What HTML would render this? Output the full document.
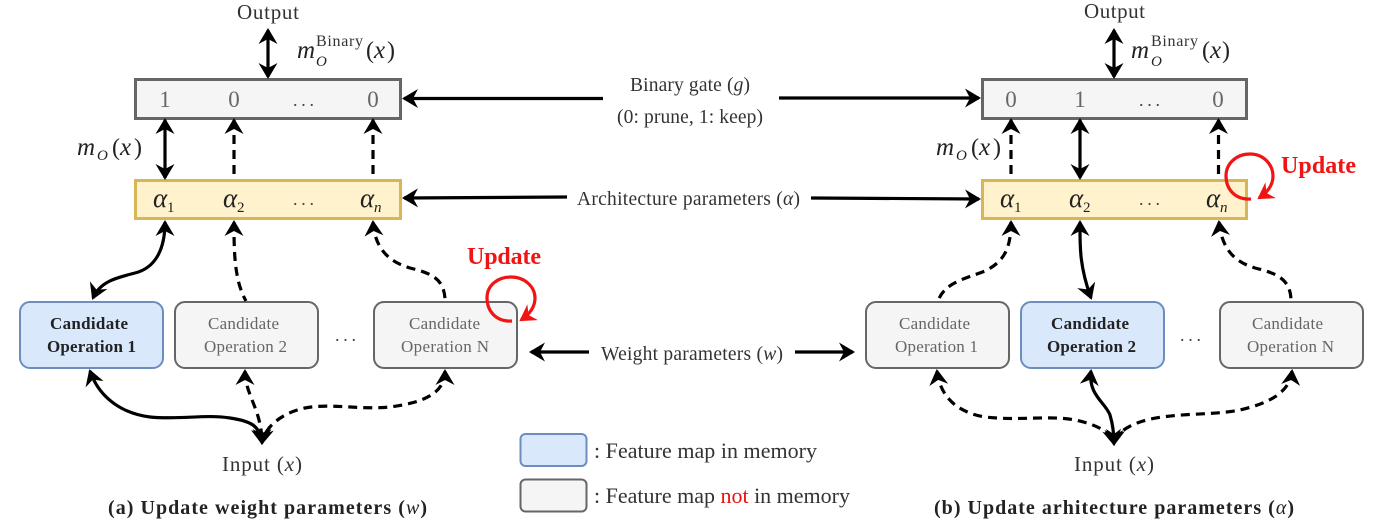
<!DOCTYPE html>
<html><head><meta charset="utf-8"><style>
html,body{margin:0;padding:0;background:#fff;width:1387px;height:527px;overflow:hidden}
svg{display:block;filter:blur(.3px)}
text{font-family:"Liberation Serif",serif;fill:#333;font-size:19.5px}
.i{font-style:italic}
.num{font-size:23px;fill:#666;text-anchor:middle}
.a{font-size:27px;font-style:italic;fill:#222}
.s{font-size:15px;fill:#222}
.bin{font-size:16px;fill:#333}
.m{font-size:25px;font-style:italic;fill:#222}
.p{font-size:24px;fill:#222}
.c{font-size:17px;fill:#666}
.cb{font-size:17px;font-weight:bold;fill:#222}
.u{font-size:24px;font-weight:bold;fill:#f01414}
.cap{font-size:20px;font-weight:bold;fill:#222}
.l{font-size:22px;fill:#333}
.d{font-size:18px;fill:#444}
.k{fill:none;stroke:#000;stroke-width:3.2;marker-end:url(#h);marker-start:url(#h)}
.o{fill:none;stroke:#000;stroke-width:3.2;marker-start:url(#h)}
.e{fill:none;stroke:#000;stroke-width:3.2;marker-end:url(#h)}
.ds{stroke-dasharray:9 6}
.r{fill:none;stroke:#f01414;stroke-width:3.2;marker-end:url(#hr)}
</style></head><body>
<svg width="1387" height="527" viewBox="0 0 1387 527" xmlns="http://www.w3.org/2000/svg">
<defs>
<marker id="h" markerUnits="userSpaceOnUse" markerWidth="20" markerHeight="20" refX="14" refY="9.500" orient="auto-start-reverse"><path d="M0,0 L16,9.500 L0,19 L5,9.500 Z" fill="#000"/></marker>
<marker id="hr" markerUnits="userSpaceOnUse" markerWidth="20" markerHeight="20" refX="14" refY="9.500" orient="auto"><path d="M0,0 L16,9.500 L0,19 L5,9.500 Z" fill="#f01414"/></marker>
</defs>

<!-- boxes left -->
<rect x="135.500" y="79.500" width="265" height="39" fill="#f5f5f5" stroke="#666" stroke-width="3"/>
<rect x="135.500" y="180.500" width="265" height="38" fill="#fff2cc" stroke="#d6b656" stroke-width="3"/>
<rect x="20" y="302" width="143" height="66" rx="10" fill="#dae8fc" stroke="#6c8ebf" stroke-width="2"/>
<rect x="175" y="302" width="143" height="66" rx="10" fill="#f5f5f5" stroke="#666" stroke-width="2"/>
<rect x="374" y="302" width="143" height="66" rx="10" fill="#f5f5f5" stroke="#666" stroke-width="2"/>
<!-- boxes right -->
<rect x="982.500" y="79.500" width="264" height="39" fill="#f5f5f5" stroke="#666" stroke-width="3"/>
<rect x="982.500" y="180.500" width="264" height="38" fill="#fff2cc" stroke="#d6b656" stroke-width="3"/>
<rect x="866" y="302" width="143" height="66" rx="10" fill="#f5f5f5" stroke="#666" stroke-width="2"/>
<rect x="1021" y="302" width="143" height="66" rx="10" fill="#dae8fc" stroke="#6c8ebf" stroke-width="2"/>
<rect x="1220" y="302" width="143" height="66" rx="10" fill="#f5f5f5" stroke="#666" stroke-width="2"/>
<!-- legend -->
<rect x="520.500" y="434" width="66" height="32" rx="5" fill="#dae8fc" stroke="#6c8ebf" stroke-width="2"/>
<rect x="520.500" y="479.500" width="66" height="32" rx="5" fill="#f5f5f5" stroke="#666" stroke-width="2"/>

<!-- left connectors -->
<path class="k" d="M268,30 L268,77"/>
<path class="k" d="M165,120 L165,178"/>
<path class="o ds" d="M234,120 L234,180"/>
<path class="o ds" d="M373,120 L373,180"/>
<path class="o" d="M404,98.500 L603,98.500"/>
<path class="o" d="M404,198 L567,197"/>
<path class="o" d="M531,352 L589,352"/>
<path class="k" d="M165,222 C165,250 155,268 135,273 C115,278 100,282 93,298"/>
<path class="o ds" d="M234,222 C234,250 234,280 246,301"/>
<path class="o ds" d="M373,222 C375,250 390,262 410,268 C430,273 445,278 445,301"/>
<path class="k" d="M90,371 C100,400 125,414 150,417 C180,420 205,414 230,418 C250,421 260,425 262,443"/>
<path class="k ds" d="M245,371 C245,395 262,410 262,443"/>
<path class="k ds" d="M445,371 C445,395 420,403 390,407 C360,410 330,403 305,408 C285,412 265,425 262,443"/>
<path class="r" d="M512,321 C495,322 487,310 487,298 C487,285 498,277 511,277 C525,277 535,287 535,298 C535,307 530,314 521,320"/>

<!-- right connectors -->
<path class="k" d="M1114,30 L1114,77"/>
<path class="o ds" d="M1011,120 L1011,180"/>
<path class="k" d="M1080,120 L1080,178"/>
<path class="o ds" d="M1218.500,120 L1218.500,180"/>
<path class="e" d="M779,98 L979,98"/>
<path class="e" d="M811,198 L979,199"/>
<path class="e" d="M795,352 L853,352"/>
<path class="o ds" d="M1011,222 C1011,250 1003,262 985,271 C965,279 945,282 938,301"/>
<path class="k" d="M1080,222 C1080,245 1079,265 1091,298"/>
<path class="o ds" d="M1219,222 C1222,250 1235,262 1255,268 C1275,273 1291,278 1291,301"/>
<path class="k ds" d="M937,371 C940,395 955,412 985,417 C1020,421 1050,415 1075,420 C1095,424 1112,432 1114,444"/>
<path class="k" d="M1091,371 C1088,395 1105,402 1110,415 C1113,425 1114,435 1114,444"/>
<path class="k ds" d="M1292,371 C1290,392 1270,403 1240,410 C1210,416 1170,412 1140,422 C1125,427 1115,435 1114,444"/>
<path class="r" d="M1251,199 C1234,200 1226,188 1226,176 C1226,163 1237,154 1250,154 C1264,154 1273,165 1273,176 C1273,185 1268,192 1259,198"/>

<!-- left text -->
<text x="237" y="19" style="font-size:21px" textLength="62">Output</text>
<text class="m" x="297" y="58">m</text><text class="bin" x="316" y="46" textLength="47">Binary</text><text class="i s" x="316" y="66">O</text><text class="p" x="366" y="58">(</text><text class="m" x="374" y="58">x</text><text class="p" x="387" y="58">)</text>
<text class="m" x="77" y="155">m</text><text class="i s" x="97" y="160">O</text><text class="p" x="112" y="155">(</text><text class="m" x="120" y="155">x</text><text class="p" x="134" y="155">)</text>
<text class="num" x="165" y="107">1</text><text class="num" x="234" y="107">0</text><text class="num" x="373" y="107">0</text>
<text class="d" x="293" y="106" textLength="21">...</text>
<text class="a" x="153" y="207">α</text><text class="s" x="167" y="212">1</text>
<text class="a" x="223" y="207">α</text><text class="s" x="237" y="212">2</text>
<text class="a" x="360" y="207">α</text><text class="s i" x="374" y="212">n</text>
<text class="d" x="293" y="205" textLength="21">...</text>
<text class="cb" x="50" y="329" textLength="78">Candidate</text><text class="cb" x="47" y="352" textLength="89">Operation 1</text>
<text class="c" x="208" y="329" textLength="71">Candidate</text><text class="c" x="204" y="352" textLength="83">Operation 2</text>
<text class="c" x="409" y="329" textLength="71">Candidate</text><text class="c" x="401" y="352" textLength="88">Operation N</text>
<text class="d" x="335" y="341" textLength="21">...</text>
<text class="u" x="467" y="264" textLength="74">Update</text>
<text x="222" y="471" style="font-size:21px" textLength="80">Input (<tspan class="i">x</tspan>)</text>
<text class="cap" x="108" y="514" textLength="319">(a) Update weight parameters (<tspan class="i" style="font-weight:normal">w</tspan>)</text>

<!-- center text -->
<text x="630" y="91" textLength="120">Binary gate (<tspan class="i">g</tspan>)</text>
<text x="617" y="123" textLength="146">(0: prune, 1: keep)</text>
<text x="577" y="205" textLength="223">Architecture parameters (<tspan class="i">α</tspan>)</text>
<text x="601" y="360" textLength="182">Weight parameters (<tspan class="i">w</tspan>)</text>
<text class="l" x="594" y="458" textLength="223">: Feature map in memory</text>
<text class="l" x="594" y="503" textLength="256">: Feature map <tspan style="fill:#e81010">not</tspan> in memory</text>

<!-- right text -->
<text x="1084" y="18" style="font-size:21px" textLength="61">Output</text>
<text class="m" x="1131" y="58">m</text><text class="bin" x="1151" y="46" textLength="47">Binary</text><text class="i s" x="1151" y="66">O</text><text class="p" x="1202" y="58">(</text><text class="m" x="1210" y="58">x</text><text class="p" x="1222" y="58">)</text>
<text class="m" x="936" y="155">m</text><text class="i s" x="956" y="160">O</text><text class="p" x="971" y="155">(</text><text class="m" x="979" y="155">x</text><text class="p" x="993" y="155">)</text>
<text class="num" x="1011" y="107">0</text><text class="num" x="1080" y="107">1</text><text class="num" x="1218" y="107">0</text>
<text class="d" x="1139" y="106" textLength="21">...</text>
<text class="a" x="1000" y="207">α</text><text class="s" x="1014" y="212">1</text>
<text class="a" x="1069" y="207">α</text><text class="s" x="1083" y="212">2</text>
<text class="a" x="1206" y="207">α</text><text class="s i" x="1220" y="212">n</text>
<text class="d" x="1139" y="205" textLength="21">...</text>
<text class="c" x="899" y="329" textLength="71">Candidate</text><text class="c" x="895" y="352" textLength="83">Operation 1</text>
<text class="cb" x="1051" y="329" textLength="78">Candidate</text><text class="cb" x="1047" y="352" textLength="89">Operation 2</text>
<text class="c" x="1252" y="329" textLength="71">Candidate</text><text class="c" x="1247" y="352" textLength="87">Operation N</text>
<text class="d" x="1180" y="341" textLength="21">...</text>
<text class="u" x="1281" y="173" textLength="75">Update</text>
<text x="1074" y="471" style="font-size:21px" textLength="80">Input (<tspan class="i">x</tspan>)</text>
<text class="cap" x="934" y="514" textLength="360">(b) Update arhitecture parameters (<tspan class="i" style="font-weight:normal">α</tspan>)</text>
</svg>
</body></html>
